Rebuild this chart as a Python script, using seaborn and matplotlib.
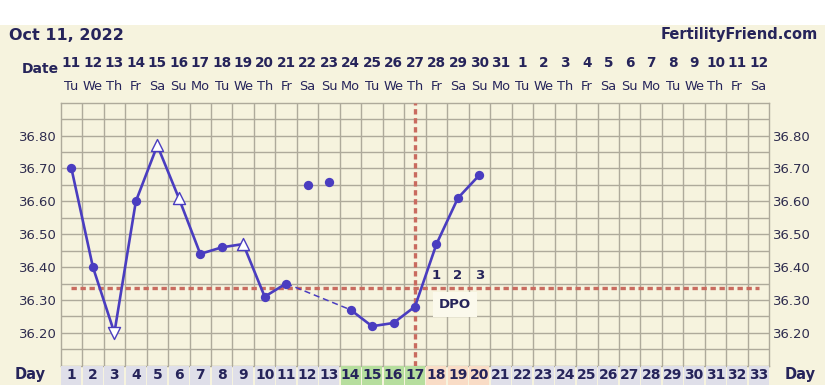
import matplotlib
matplotlib.use("Agg")
import matplotlib.pyplot as plt
from matplotlib.patches import Rectangle
import numpy as np
import pandas as pd
import seaborn as sns

# ---------------- data ----------------
title_date = "Oct 11, 2022"
site = "FertilityFriend.com"
cycle_days = list(range(1, 34))
dates = ["11", "12", "13", "14", "15", "16", "17", "18", "19", "20", "21", "22", "23",
         "24", "25", "26", "27", "28", "29", "30", "31", "1", "2", "3", "4", "5", "6",
         "7", "8", "9", "10", "11", "12"]
weekdays = ["Tu", "We", "Th", "Fr", "Sa", "Su", "Mo", "Tu", "We", "Th", "Fr", "Sa", "Su",
            "Mo", "Tu", "We", "Th", "Fr", "Sa", "Su", "Mo", "Tu", "We", "Th", "Fr", "Sa",
            "Su", "Mo", "Tu", "We", "Th", "Fr", "Sa"]
temp_days = list(range(1, 21))
temps = [36.70, 36.40, 36.20, 36.60, 36.77, 36.61, 36.44, 36.46, 36.47, 36.31,
         36.35, 36.65, 36.66, 36.27, 36.22, 36.23, 36.28, 36.47, 36.61, 36.68]
markers = ["o", "o", "v", "o", "^", "^", "o", "o", "^", "o",
           "o", "o", "o", "o", "o", "o", "o", "o", "o", "o"]
discarded_days = [12, 13]
solid_runs = [(1, 11), (14, 20)]
dashed_run = (11, 14)
coverline = 36.336
ovulation_day = 17
fertile_days = [14, 15, 16, 17]
dpo_days = [18, 19, 20]
dpo_labels = ["1", "2", "3"]
y_ticks = [36.20, 36.30, 36.40, 36.50, 36.60, 36.70, 36.80]
y_min, y_max = 36.10, 36.90

# ---------------- style ----------------
W, H = 825, 385
cream = "#F6F3DE"
grid_c = "#AEAA9B"
navy = "#26245A"
line_c = "#4A3DC0"
red_c = "#C96B5F"

plt.rcParams["font.family"] = ["DejaVu Sans"]

df = pd.DataFrame({"day": temp_days, "temp": temps, "marker": markers})

fig = plt.figure(figsize=(W / 100, H / 100), dpi=100, facecolor=cream)
fig.patches.append(Rectangle((0, 1 - 25 / H), 1, 25 / H, transform=fig.transFigure,
                             facecolor="white", edgecolor="none", zorder=0))

left_px, right_px, top_px, bot_px = 60.7, 769.3, 102.7, 365.7
ax = fig.add_axes([left_px / W, 1 - bot_px / H, (right_px - left_px) / W, (bot_px - top_px) / H])
ax.set_facecolor(cream)
ax.set_xlim(0.5, 33.5)
ax.set_ylim(y_min, y_max)

# grid
ax.set_xticks(np.arange(1.5, 33.5, 1.0), minor=True)
ax.set_xticks([])
ax.set_yticks(y_ticks)
ax.set_yticks(np.arange(36.15, 36.90, 0.1), minor=True)
ax.grid(True, which="both", color=grid_c, linewidth=1.0)
ax.xaxis.grid(True, which="minor", color=grid_c, linewidth=1.0)
ax.tick_params(which="both", length=0)
ax.tick_params(axis="y", labelsize=9.5, labelcolor="#2E2C4E", pad=3,
               labelleft=True, labelright=True)
ax.yaxis.set_major_formatter(matplotlib.ticker.FormatStrFormatter("%.2f"))
for s in ax.spines.values():
    s.set_color(grid_c)
    s.set_linewidth(1.0)

# coverline & ovulation line
ax.hlines(coverline, cycle_days[0], cycle_days[-1], colors=red_c, linewidth=2.4,
          linestyles=(0, (1.6, 1.1)), zorder=3)
ax.axvline(ovulation_day, color=red_c, linewidth=2.4, linestyle=(0, (1.6, 1.1)), zorder=3)

# temperature lines
for a, b in solid_runs:
    sub = df[(df.day >= a) & (df.day <= b) & (~df.day.isin(discarded_days))]
    sns.lineplot(data=sub, x="day", y="temp", ax=ax, color=line_c, linewidth=1.9,
                 estimator=None, sort=False, zorder=4)
sub = df[df.day.isin(list(dashed_run))]
sns.lineplot(data=sub, x="day", y="temp", ax=ax, color=line_c, linewidth=1.1,
             linestyle=(0, (4, 2.5)), estimator=None, sort=False, zorder=4)

# markers
circ = df[df.marker == "o"]
sns.scatterplot(data=circ, x="day", y="temp", ax=ax, marker="o", s=45,
                color=line_c, edgecolor=line_c, linewidth=0, zorder=5)
for m in ["^", "v"]:
    tri = df[df.marker == m]
    sns.scatterplot(data=tri, x="day", y="temp", ax=ax, marker=m, s=75,
                    facecolor="white", edgecolor=line_c, linewidth=1.0, zorder=5)
ax.set_xlabel("")
ax.set_ylabel("")

# DPO labels
for d, lab in zip(dpo_days, dpo_labels):
    ax.text(d, coverline + 0.037, lab, ha="center", va="center", fontsize=9.5,
            fontweight="bold", color=navy, zorder=6)
ax.text(dpo_days[0] + 0.87, coverline - 0.05, "DPO", ha="center", va="center",
        fontsize=9.5, fontweight="bold", color=navy, zorder=6,
        bbox=dict(boxstyle="square,pad=0.45", facecolor="#FBF9EC", edgecolor="none"))

# header rows
xt = ax.get_xaxis_transform()
fig.text(9 / W, 1 - 35 / H, title_date, ha="left", va="center", fontsize=11.5,
         fontweight="bold", color=navy)
fig.text(818 / W, 1 - 35 / H, site, ha="right", va="center", fontsize=10.5,
         fontweight="bold", color=navy)
ph = bot_px - top_px


def yfrac(py):
    return (bot_px - py) / ph


fig.text(40 / W, 1 - 69 / H, "Date", ha="center", va="center",
         fontsize=10, fontweight="bold", color=navy)
for d, lab in zip(cycle_days, dates):
    ax.text(d, yfrac(63), lab, transform=xt, ha="center", va="center", fontsize=9.8,
            fontweight="bold", color=navy, clip_on=False)
for d, lab in zip(cycle_days, weekdays):
    ax.text(d, yfrac(86), lab, transform=xt, ha="center", va="center", fontsize=9.3,
            color=navy, clip_on=False)

# day row
row_h = H - bot_px
dax = fig.add_axes([left_px / W, 0.0, (right_px - left_px) / W, row_h / H])
dax.set_xlim(0.5, 33.5)
dax.set_ylim(0, 1)
cell_colors = []
for d in cycle_days:
    if d in fertile_days:
        cell_colors.append("#B6DE9E")
    elif d in dpo_days:
        cell_colors.append("#F9DCC6")
    else:
        cell_colors.append("#DFDFE9")
dax.bar(cycle_days, 1.2, width=0.93, bottom=-0.2, color=cell_colors, edgecolor="none")
dax.set_facecolor(cream)
dax.axis("off")
row_center = (H - 375) / row_h
for d in cycle_days:
    dax.text(d, row_center, str(d), ha="center", va="center", fontsize=10,
             fontweight="bold", color=navy)
fig.text(30 / W, (H - 375) / H, "Day", ha="center", va="center", fontsize=10.5,
         fontweight="bold", color=navy)
fig.text(800 / W, (H - 375) / H, "Day", ha="center", va="center", fontsize=10.5,
         fontweight="bold", color=navy)

fig.savefig("out.png", dpi=100, facecolor=cream)
